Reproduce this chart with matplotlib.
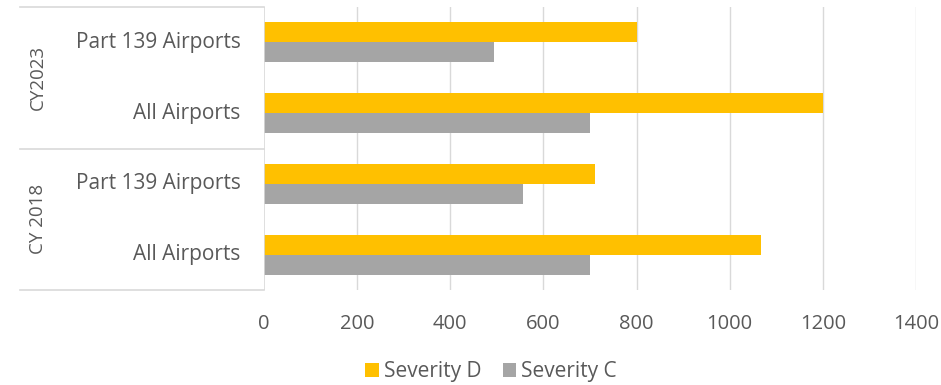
import matplotlib
matplotlib.use("Agg")
import matplotlib.pyplot as plt
from matplotlib.lines import Line2D

# data, listed top to bottom as in the chart
groups = ["CY2023", "CY 2018"]
categories = ["Part 139 Airports", "All Airports", "Part 139 Airports", "All Airports"]
group_of = [0, 0, 1, 1]
severity_d = [801, 1200, 710, 1068]
severity_c = [493, 700, 556, 700]
xticks = [0, 200, 400, 600, 800, 1000, 1200, 1400]

COLOR_D = "#FFC000"
COLOR_C = "#A5A5A5"
TEXT = "#595959"
GRID = "#D9D9D9"

plt.rcParams["font.family"] = ["Open Sans", "DejaVu Sans"]

W, H = 941, 385
fig = plt.figure(figsize=(W / 100, H / 100), dpi=100)
left, right, top, bottom = 264, 916, 7, 290
ax = fig.add_axes([left / W, 1 - bottom / H, (right - left) / W, (bottom - top) / H])

n = len(categories)
ypos = [n - 1 - i for i in range(n)]
h = 0.283
ax.barh([y + h / 2 for y in ypos], severity_d, height=h, color=COLOR_D, label="Severity D", zorder=3)
ax.barh([y - h / 2 for y in ypos], severity_c, height=h, color=COLOR_C, label="Severity C", zorder=3)

ax.set_xlim(0, 1400)
ax.set_ylim(-0.5, n - 0.5)
ax.set_xticks(xticks)
ax.set_xticklabels([str(t) for t in xticks])
ax.set_yticks([])
ax.tick_params(axis="x", length=0, pad=17, labelsize=14.5, labelcolor=TEXT)
for s in ax.spines.values():
    s.set_visible(False)
for t in xticks[1:]:
    ax.axvline(t, color=GRID, lw=1, zorder=1)
ax.axvline(0, color=GRID, lw=1.2, zorder=4)

# category labels and the group box on the left
box_left = -(left - 20) / (right - left)
for y, cat in zip(ypos, categories):
    ax.text(-0.036, y, cat, transform=ax.get_yaxis_transform(), ha="right", va="center",
            fontsize=15, color=TEXT)
for yb in [n - 0.5, 1.5, -0.5]:
    ax.add_line(Line2D([box_left, 0], [yb, yb], transform=ax.get_yaxis_transform(),
                       color=GRID, lw=1.2, clip_on=False))
for gi, g in enumerate(groups):
    ys = [y for y, gg in zip(ypos, group_of) if gg == gi]
    ax.text(box_left + 0.027, sum(ys) / len(ys), g, transform=ax.get_yaxis_transform(),
            rotation=90, ha="center", va="center", fontsize=13.5, color=TEXT)

fig.legend(loc="center", bbox_to_anchor=(0.522, 1 - 372 / H), ncol=2, frameon=False,
           fontsize=15, labelcolor=TEXT, handlelength=0.65, handleheight=0.65,
           handletextpad=0.25, columnspacing=1.0)

fig.savefig("out.png", dpi=100)
